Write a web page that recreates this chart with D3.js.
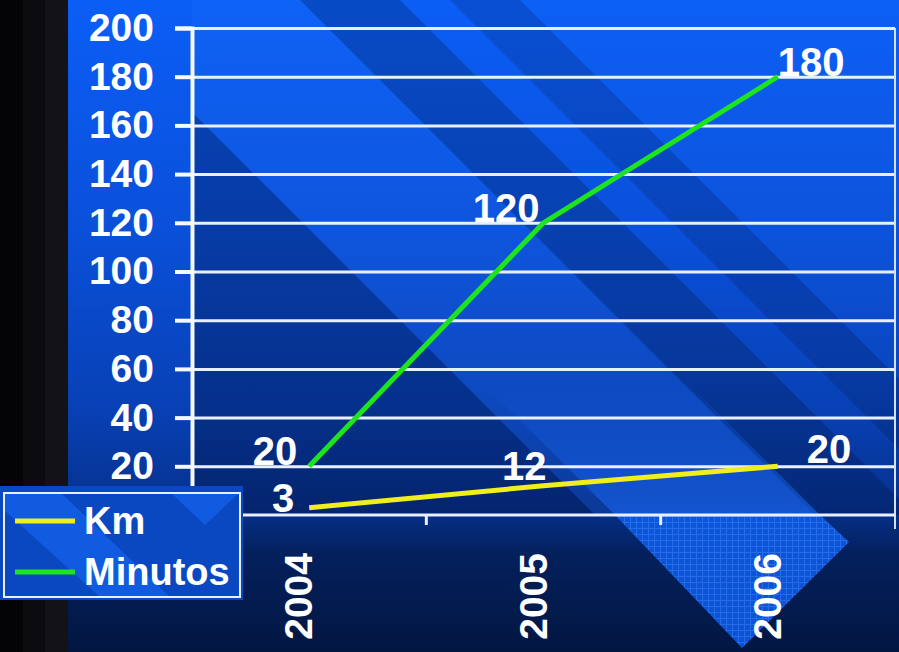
<!DOCTYPE html>
<html>
<head>
<meta charset="utf-8">
<script src="https://cdn.jsdelivr.net/npm/d3@7"></script>
<style>
  html, body { margin: 0; padding: 0; background: #040406; }
  svg { display: block; }
  text { font-family: "Liberation Sans", Arial, sans-serif; font-weight: bold; fill: #ffffff; }
</style>
</head>
<body>
<div id="chart"></div>
<script>
// chart data
const years = ["2004", "2005", "2006"];
const kmValues = [3, 12, 20];
const minutosValues = [20, 120, 180];
const yTicks = [0, 20, 40, 60, 80, 100, 120, 140, 160, 180, 200];
const seriesNames = ["Km", "Minutos"];

const W = 899, H = 652;
const plotLeft = 192, plotRight = 895, plotTop = 28, plotBottom = 515;

const svg = d3.select('#chart').append('svg')
    .attr('width', W)
    .attr('height', H);

const defs = svg.append('defs');

// background gradient
const bg = defs.append('linearGradient')
    .attr('id', 'bg')
    .attr('x1', 0).attr('y1', 0).attr('x2', 0).attr('y2', 1);
bg.selectAll('stop')
    .data([[0, '#0b5ef6'], [0.35, '#0a50da'], [0.62, '#0841b6'], [0.78, '#06318e'], [0.85, '#04205c'], [1, '#021641']])
    .enter().append('stop')
    .attr('offset', d => d[0])
    .attr('stop-color', d => d[1]);

// fade for the light band near the bottom of the plot
const fade = defs.append('linearGradient')
    .attr('id', 'fade')
    .attr('x1', 0).attr('y1', 0).attr('x2', 0).attr('y2', 1);
fade.append('stop').attr('offset', 0).attr('stop-color', '#1a6cff').attr('stop-opacity', 0);
fade.append('stop').attr('offset', 1).attr('stop-color', '#1a6cff').attr('stop-opacity', 0.55);

// small grid texture for the light diamond
const pat = defs.append('pattern')
    .attr('id', 'mesh')
    .attr('width', 6).attr('height', 6)
    .attr('patternUnits', 'userSpaceOnUse');
pat.append('rect').attr('width', 6).attr('height', 6).attr('fill', '#0c5ae6');
pat.append('path').attr('d', 'M0 0.5H6M0.5 0V6').attr('stroke', '#2a74f4').attr('stroke-width', 1);

defs.append('clipPath').attr('id', 'bgclip')
    .append('rect').attr('x', plotLeft).attr('y', 0).attr('width', W - plotLeft).attr('height', H);

// left dark strip
svg.append('rect').attr('x', 0).attr('y', 0).attr('width', 23).attr('height', H).attr('fill', '#040406');
svg.append('rect').attr('x', 23).attr('y', 0).attr('width', 22).attr('height', H).attr('fill', '#0c0c10');
svg.append('rect').attr('x', 45).attr('y', 0).attr('width', 23).attr('height', H).attr('fill', '#131317');

svg.append('rect').attr('x', 68).attr('y', 0).attr('width', W - 68).attr('height', H).attr('fill', 'url(#bg)');

// diagonal stripes (u = x - y)
const deco = svg.append('g').attr('clip-path', 'url(#bgclip)');
function band(u0, u1, y0, y1) {
    return [[u0 + y0, y0], [u1 + y0, y0], [u1 + y1, y1], [u0 + y1, y1]];
}
const stripes = [
    {p: band(-700, 80, 0, plotBottom), c: '#000820', o: 0.28},
    {p: band(80, 300, 0, plotBottom), c: '#3a86ff', o: 0.10},
    {p: band(300, 400, 0, plotBottom), c: '#000820', o: 0.22},
    {p: band(450, 520, 0, plotBottom), c: '#000820', o: 0.16},
    {p: band(520, 900, 0, plotBottom), c: '#3a86ff', o: 0.06}
];
deco.selectAll('polygon.stripe')
    .data(stripes)
    .enter().append('polygon')
    .attr('class', 'stripe')
    .attr('points', d => d.p.join(' '))
    .attr('fill', d => d.c)
    .attr('opacity', d => d.o);

// light band brightening toward the axis, then the mesh diamond below it
deco.append('polygon')
    .attr('points', band(100, 305, 380, plotBottom).join(' '))
    .attr('fill', 'url(#fade)');
deco.append('polygon')
    .attr('points', [[615, plotBottom], [820, plotBottom], [849, 542], [742, 648], [615, 515]].join(' '))
    .attr('fill', 'url(#mesh)')
    .attr('opacity', 0.9);

// scales
const x = d3.scaleBand().domain(years).range([plotLeft, plotRight]);
const y = d3.scaleLinear().domain([0, 200]).range([plotBottom, plotTop]);
const cx = d => x(d) + x.bandwidth() / 2;

// gridlines
svg.append('g')
    .attr('transform', `translate(${plotLeft},0)`)
    .call(d3.axisLeft(y).tickValues(yTicks.slice(1)).tickSize(-(plotRight - plotLeft)).tickFormat(''))
    .call(g => g.select('.domain').remove())
    .call(g => g.selectAll('line').attr('stroke', '#e8f0ff').attr('stroke-width', 3));

// right border
svg.append('line')
    .attr('x1', plotRight).attr('x2', plotRight).attr('y1', y(200)).attr('y2', plotBottom + 14)
    .attr('stroke', '#cfe0ff').attr('stroke-width', 2);

// y axis (the 0 label sits under the legend)
svg.append('g')
    .attr('transform', `translate(${plotLeft},0)`)
    .call(d3.axisLeft(y).tickValues(yTicks).tickSize(17).tickPadding(21)
        .tickFormat(d => d === 0 ? '' : d))
    .call(g => g.select('.domain').attr('stroke', '#f4f8ff').attr('stroke-width', 4))
    .call(g => g.selectAll('line').attr('stroke', '#f4f8ff').attr('stroke-width', 4))
    .call(g => g.selectAll('text')
        .attr('fill', '#ffffff')
        .style('font-size', '39px')
        .style('font-family', '"Liberation Sans", Arial, sans-serif')
        .style('font-weight', 'bold'));

// x axis
svg.append('line')
    .attr('x1', plotLeft).attr('x2', plotRight).attr('y1', plotBottom).attr('y2', plotBottom)
    .attr('stroke', '#e8f0ff').attr('stroke-width', 3);
svg.selectAll('line.xtick')
    .data(years.slice(1))
    .enter().append('line')
    .attr('class', 'xtick')
    .attr('x1', d => x(d)).attr('x2', d => x(d))
    .attr('y1', plotBottom).attr('y2', plotBottom + 10)
    .attr('stroke', '#e8f0ff').attr('stroke-width', 3);

svg.selectAll('text.xlab')
    .data(years)
    .enter().append('text')
    .attr('class', 'xlab')
    .attr('transform', d => `translate(${cx(d) + 3},553) rotate(-90)`)
    .attr('text-anchor', 'end')
    .style('font-size', '39px')
    .text(d => d);

// lines
const series = [
    {name: seriesNames[0], values: kmValues, color: '#f0ee1e'},
    {name: seriesNames[1], values: minutosValues, color: '#1ee41e'}
];
const line = d3.line()
    .x((d, i) => cx(years[i]))
    .y(d => y(d));

svg.selectAll('path.series')
    .data(series)
    .enter().append('path')
    .attr('class', 'series')
    .attr('d', d => line(d.values))
    .attr('fill', 'none')
    .attr('stroke', d => d.color)
    .attr('stroke-width', 5)
    .attr('stroke-linejoin', 'round');

// value labels, offset from each point
const labelOffsets = {
    Km: [{dx: -15, dy: 4, a: 'end'}, {dx: 3, dy: -6, a: 'end'}, {dx: 29, dy: -3, a: 'start'}],
    Minutos: [{dx: -12, dy: -1, a: 'end'}, {dx: -4, dy: -1, a: 'end'}, {dx: 0, dy: -1, a: 'start'}]
};
series.forEach(s => {
    svg.selectAll(null)
        .data(s.values)
        .enter().append('text')
        .attr('x', (d, i) => cx(years[i]) + labelOffsets[s.name][i].dx)
        .attr('y', d => y(d))
        .attr('dy', (d, i) => labelOffsets[s.name][i].dy)
        .attr('text-anchor', (d, i) => labelOffsets[s.name][i].a)
        .style('font-size', '40px')
        .text(d => d);
});

// legend
const lg = svg.append('g');
lg.append('rect').attr('x', 0).attr('y', 486).attr('width', 243).attr('height', 114).attr('fill', '#0a48c2');
lg.append('polygon').attr('points', '4,492 60,492 170,597 100,597 4,510').attr('fill', '#1260e6').attr('opacity', 0.8);
lg.append('polygon').attr('points', '170,492 240,492 205,525').attr('fill', '#1260e6').attr('opacity', 0.8);
lg.append('rect').attr('x', 4).attr('y', 493).attr('width', 236).attr('height', 104)
    .attr('fill', 'none').attr('stroke', '#e8f0ff').attr('stroke-width', 2);

const lgItems = lg.selectAll('g.item')
    .data(series)
    .enter().append('g')
    .attr('class', 'item')
    .attr('transform', (d, i) => `translate(0,${521 + i * 51})`);
lgItems.append('line')
    .attr('x1', 15).attr('x2', 75).attr('y1', 0).attr('y2', 0)
    .attr('stroke', d => d.color).attr('stroke-width', 5);
lgItems.append('text')
    .attr('x', 84).attr('y', 13)
    .style('font-size', '38px')
    .text(d => d.name);
</script>
</body>
</html>
